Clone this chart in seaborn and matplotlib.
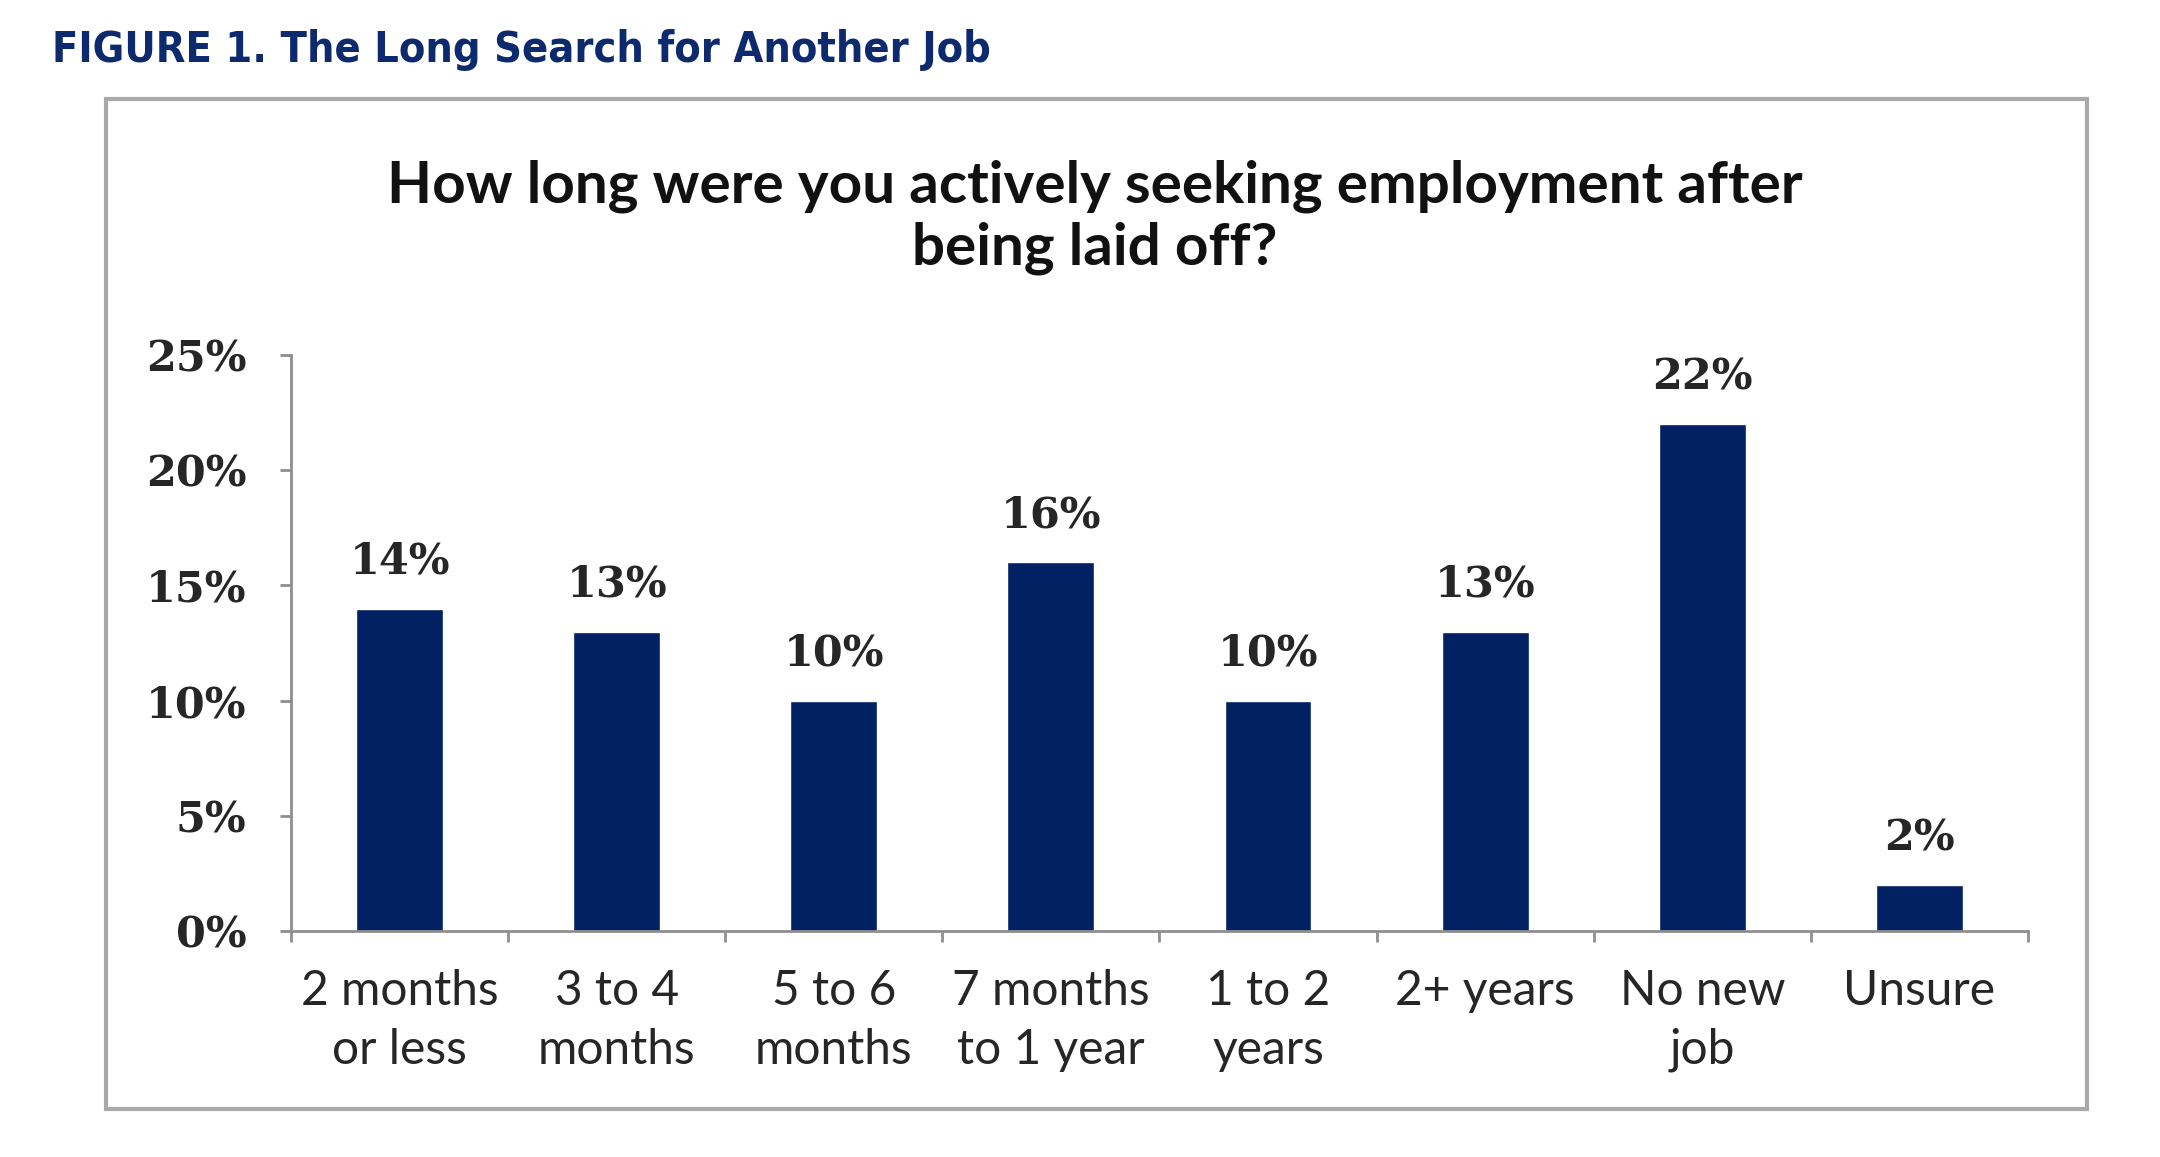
import matplotlib
matplotlib.use('Agg')
import matplotlib.pyplot as plt
import matplotlib.patches as mpatches
from matplotlib.ticker import FixedLocator
import seaborn as sns
import pandas as pd

# ── Data ─────────────────────────────────────────────────────────────────────
categories = ['2 months\nor less', '3 to 4\nmonths', '5 to 6\nmonths', '7 months\nto 1 year',
              '1 to 2\nyears', '2+ years', 'No new\njob', 'Unsure']
shares = [14, 13, 10, 16, 10, 13, 22, 2]
y_ticks = [0, 5, 10, 15, 20, 25]

NAVY = '#012162'
AXIS_GRAY = '#8e8e8e'
SERIF = ['DejaVu Serif']

sns.set_style('white')
plt.rcParams['font.family'] = ['Lato', 'DejaVu Sans']

df = pd.DataFrame({'cat': categories, 'share': shares})

fig = plt.figure(figsize=(21.6, 11.57), dpi=100)
ax = fig.add_axes([0.1347, 0.1953, 0.8042, 0.4978])

sns.barplot(data=df, x='cat', y='share', color=NAVY, width=0.40, saturation=1, ax=ax)

ax.set_xlim(-0.5, len(categories) - 0.5)
ax.set_ylim(0, 25)
ax.set_xlabel('')
ax.set_ylabel('')

# y axis
ax.set_yticks(y_ticks)
ax.set_yticklabels([f'{v}%' for v in y_ticks], family=SERIF, fontweight='bold', fontsize=31)
ax.tick_params(axis='y', direction='out', length=8, width=2, color=AXIS_GRAY, pad=24, left=True)

# x axis: labels at centres, ticks on boundaries
ax.set_xticks(range(len(categories)))
ax.set_xticklabels(categories, fontsize=34.5, linespacing=1.42)
ax.tick_params(axis='x', which='major', length=0, pad=27)
ax.xaxis.set_minor_locator(FixedLocator([i - 0.5 for i in range(len(categories) + 1)]))
ax.tick_params(axis='x', which='minor', direction='out', length=8, width=2, color=AXIS_GRAY, bottom=True)

for s in ['top', 'right']:
    ax.spines[s].set_visible(False)
for s in ['left', 'bottom']:
    ax.spines[s].set_color(AXIS_GRAY)
    ax.spines[s].set_linewidth(2)

# value labels
for i, v in enumerate(shares):
    ax.annotate(f'{v}%', (i, v), xytext=(0, 25), textcoords='offset points',
                ha='center', va='baseline', family=SERIF, fontweight='bold', fontsize=31)

# frame around the chart
frame = mpatches.Rectangle((0.049, 0.0415), 0.917, 0.873, transform=fig.transFigure,
                           fill=False, edgecolor='#a9a9a9', lw=3, zorder=0)
fig.patches.append(frame)

# chart title
fig.text(0.507, 0.812, 'How long were you actively seeking employment after\nbeing laid off?',
         ha='center', va='center', fontsize=42, fontweight='bold', linespacing=1.2, color='#111111')

# figure caption
fig.text(0.024, 0.946, 'FIGURE 1. The Long Search for Another Job', ha='left', va='baseline',
         fontsize=31, fontweight='bold', fontstretch='condensed', color='#0d2a6e',
         family=['DejaVu Sans'])

fig.savefig('out.png', dpi=100)
